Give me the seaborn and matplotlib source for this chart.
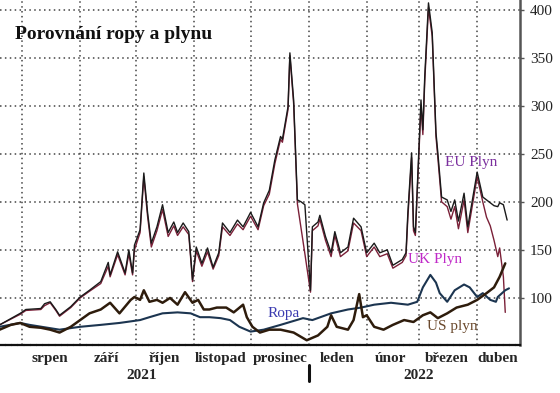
import matplotlib
matplotlib.use("Agg")
import matplotlib.pyplot as plt
import seaborn as sns
import pandas as pd

# day offsets are counted from 19 July 2021
START = pd.Timestamp("2021-07-19")

eu_days = [1, 12, 15, 23, 25, 28, 31, 33, 39, 44, 49, 55, 59, 60, 64, 68, 70, 72, 73, 76,
           78, 80, 82, 85, 88, 91, 94, 96, 99, 102, 104, 106, 109, 112, 115, 118, 120, 124,
           128, 131, 135, 139, 142, 145, 148, 151, 152, 155, 156, 158, 160, 162, 164, 167,
           168, 171, 172, 175, 178, 180, 183, 187, 190, 194, 197, 201, 204, 208, 211, 216,
           218, 219, 221, 222, 223, 226, 227, 228, 230, 232, 234, 235, 237, 240, 242, 244,
           246, 249, 251, 256, 259, 261, 263, 265, 267, 268, 270, 272]
eu_vals = [72, 84, 88, 89, 94, 96, 88, 82, 91, 101, 108, 117, 137, 124, 148, 126, 150, 126, 155, 171,
           230, 189, 157, 174, 197, 168, 179, 168, 178, 169, 119, 153, 136, 152, 132, 147, 178, 168,
           181, 174, 189, 174, 199, 212, 244, 268, 265, 299, 355, 306, 202, 200, 197, 108,
           174, 179, 186, 164, 147, 169, 147, 153, 183, 174, 147, 157, 147, 150, 134, 140,
           147, 189, 251, 174, 168, 306, 275, 330, 407, 376, 272, 251, 205, 202, 190, 202,
           180, 209, 174, 231, 205, 202, 199, 196, 195, 199, 197, 181]

uk_days = [1, 12, 15, 23, 25, 28, 31, 33, 39, 44, 49, 55, 59, 60, 64, 68, 70, 72, 73, 76,
           78, 80, 82, 85, 88, 91, 94, 96, 99, 102, 104, 106, 109, 112, 115, 118, 120, 124,
           128, 131, 135, 139, 142, 145, 148, 151, 152, 155, 156, 158, 160, 162, 164, 167,
           168, 171, 172, 175, 178, 180, 183, 187, 190, 194, 197, 201, 204, 208, 211, 216,
           218, 219, 221, 222, 223, 226, 227, 228, 230, 232, 234, 235, 237, 240, 242, 244,
           246, 249, 251, 256, 259, 261, 263, 265, 267, 268, 270, 271]
uk_vals = [72, 83, 87, 88, 92, 95, 87, 81, 90, 100, 107, 115, 133, 122, 145, 124, 146, 124, 150, 168,
           226, 185, 153, 170, 192, 164, 175, 165, 174, 166, 117, 149, 133, 148, 130, 144, 174, 165,
           177, 171, 185, 171, 196, 208, 240, 265, 262, 296, 352, 302, 198, 172, 146, 106,
           170, 175, 182, 160, 143, 165, 143, 149, 178, 170, 143, 153, 143, 146, 131, 137,
           144, 184, 246, 170, 165, 300, 270, 325, 402, 372, 268, 246, 200, 195, 182, 195,
           172, 202, 168, 226, 200, 184, 175, 160, 143, 152, 122, 85]

oil_days = [1, 12, 17, 33, 44, 55, 65, 76, 81, 88, 96, 103, 108, 113, 119, 124, 129, 135, 142, 151,
            163, 168, 178, 187, 194, 201, 210, 219, 224, 227, 231, 234, 236, 240, 244, 249, 252,
            256, 259, 263, 266, 267, 271, 273]
oil_vals = [70, 74, 72, 67, 70, 72, 74, 77, 80, 84, 85, 84, 80, 80, 79, 77, 70, 65, 67, 72,
            79, 77, 84, 88, 90, 93, 95, 93, 96, 111, 124, 116, 105, 96, 108, 114, 111,
            101, 105, 98, 96, 101, 108, 110]

us_days = [1, 7, 12, 17, 23, 28, 33, 39, 44, 49, 55, 60, 65, 71, 73, 76, 78, 81, 85, 88,
           92, 96, 100, 104, 107, 110, 113, 117, 122, 126, 131, 133, 136, 140, 145, 151, 158,
           165, 171, 176, 178, 181, 187, 190, 193, 195, 197, 201, 206, 211, 217, 222, 227,
           231, 235, 240, 245, 251, 256, 261, 265, 268, 271]
us_vals = [67, 72, 74, 70, 69, 67, 64, 70, 77, 84, 88, 95, 84, 98, 101, 98, 108, 96, 98, 95,
           100, 93, 106, 95, 98, 88, 88, 90, 90, 85, 93, 80, 70, 64, 67, 67, 64,
           56, 61, 70, 82, 70, 67, 77, 104, 80, 82, 70, 67, 72, 77, 75, 82,
           85, 79, 84, 90, 93, 98, 105, 111, 122, 136]

month_starts = ["2021-08-01", "2021-09-01", "2021-10-01", "2021-11-01", "2021-12-01",
                "2022-01-01", "2022-02-01", "2022-03-01", "2022-04-01"]
month_label_pos = ["2021-08-16", "2021-09-15", "2021-10-16", "2021-11-15", "2021-12-17",
                   "2022-01-16", "2022-02-14", "2022-03-16", "2022-04-12"]
month_labels = ["srpen", "září", "říjen", "listopad", "prosinec",
                "leden", "únor", "březen", "duben"]
y_ticks = [100, 150, 200, 250, 300, 350, 400]


def to_dates(days):
    return START + pd.to_timedelta(days, unit="D")


sns.set_theme(style="white")
plt.rcParams["font.family"] = ["Liberation Serif", "DejaVu Serif"]

fig = plt.figure(figsize=(5.6, 3.93), dpi=100)
ax = fig.add_axes([0.0, 0.122, 0.929, 0.878])

sns.lineplot(x=to_dates(uk_days), y=uk_vals, ax=ax, color="#7a2038", lw=1.0)
sns.lineplot(x=to_dates(eu_days), y=eu_vals, ax=ax, color="#1a1a1a", lw=1.0)
sns.lineplot(x=to_dates(oil_days), y=oil_vals, ax=ax, color="#1c3550", lw=1.5)
sns.lineplot(x=to_dates(us_days), y=us_vals, ax=ax, color="#2e1c0c", lw=1.8)

ax.set_xlim(START + pd.Timedelta(days=1.2), START + pd.Timedelta(days=279))
ax.set_ylim(51, 410)

# grid on month boundaries and every 50
ax.set_xticks(pd.to_datetime(month_starts))
ax.set_xticks(pd.to_datetime(month_label_pos), minor=True)
ax.set_xticklabels([""] * len(month_starts))
ax.set_xticklabels(month_labels, minor=True, fontweight="bold", fontsize=11)
ax.tick_params(axis="x", which="both", length=0, pad=5)
ax.set_yticks(y_ticks)
ax.yaxis.tick_right()
ax.tick_params(axis="y", length=3, width=1, color="#555555", labelsize=11, pad=4,
               labelcolor="#222222")
ax.grid(True, which="major", linestyle=(0, (1, 2.2)), color="#444444", lw=1.1)
ax.set_xlabel("")
ax.set_ylabel("")

for side in ["left", "top"]:
    ax.spines[side].set_visible(False)
ax.spines["right"].set_color("#555555")
ax.spines["right"].set_linewidth(1.8)
ax.spines["bottom"].set_color("#111111")
ax.spines["bottom"].set_linewidth(1.6)
ax.spines["bottom"].set_linestyle((0, (2, 0.8)))

xtrans = ax.get_xaxis_transform()
ax.text(pd.Timestamp("2021-10-04"), -0.087, "2021", transform=xtrans, ha="center",
        va="center", fontweight="bold", fontsize=11)
ax.text(pd.Timestamp("2022-03-01"), -0.087, "2022", transform=xtrans, ha="center",
        va="center", fontweight="bold", fontsize=11)
ax.plot([pd.Timestamp("2022-01-01")] * 2, [-0.058, -0.105], transform=xtrans,
        color="#111111", lw=2.2, clip_on=False)

ax.text(0.029, 0.9, "Porovnání ropy a plynu", transform=ax.transAxes, fontsize=14,
        fontweight="bold", va="center", ha="left", color="#111111")

ax.text(START + pd.Timedelta(days=239), 241, "EU Plyn", color="#7b2f9e", fontsize=11,
        va="center", ha="left")
ax.text(START + pd.Timedelta(days=219), 140, "UK Plyn", color="#c02ac8", fontsize=11,
        va="center", ha="left")
ax.text(START + pd.Timedelta(days=144), 84, "Ropa", color="#3a3ab0", fontsize=11,
        va="center", ha="left")
ax.text(START + pd.Timedelta(days=229), 70, "US plyn", color="#6b4a2e", fontsize=11,
        va="center", ha="left")

fig.savefig("out.png", dpi=100)
